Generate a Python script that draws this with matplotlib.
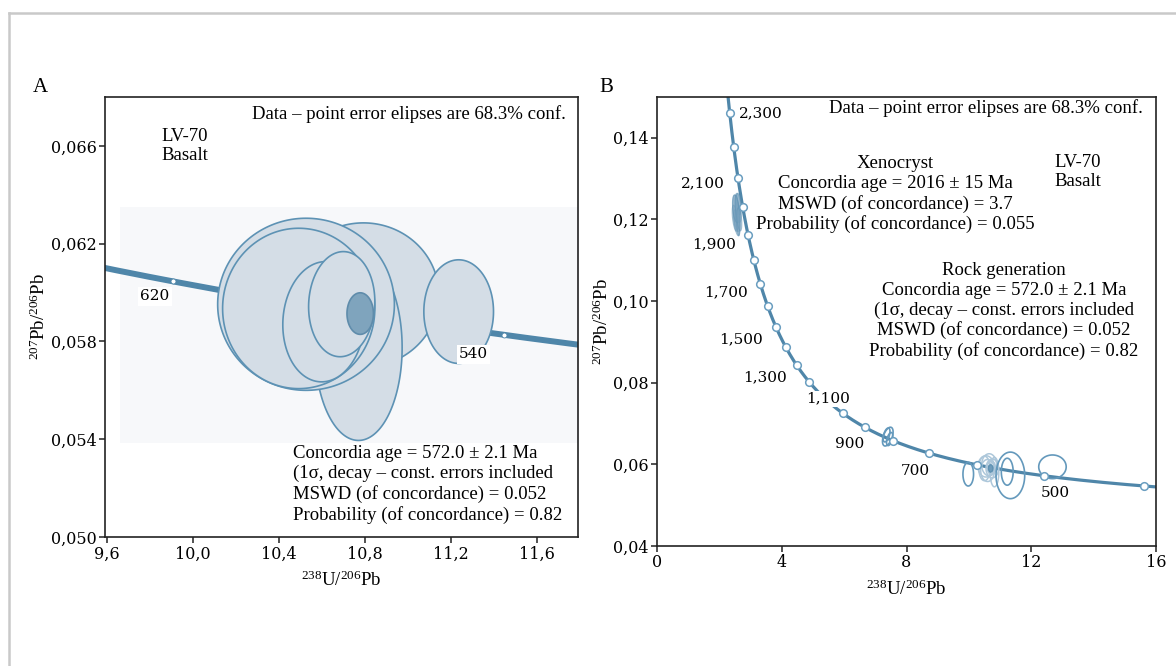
import numpy as np
import matplotlib
matplotlib.use("Agg")
import matplotlib.pyplot as plt
from matplotlib.patches import Polygon, Rectangle
from matplotlib.lines import Line2D
from matplotlib.ticker import FuncFormatter

plt.rcParams['font.family'] = ['Liberation Serif', 'DejaVu Serif']
plt.rcParams['mathtext.default'] = 'regular'

# ---------------- data ----------------
# U-Pb decay constants used for the Tera-Wasserburg concordia
LAMBDA_238 = 1.55125e-10
LAMBDA_235 = 9.8485e-10
U_RATIO = 137.88

# Panel A
a_curve_age_range = (500, 680)          # Ma
a_marker_ages = [540, 560, 580, 600, 620]
a_label_ages = ["620", "540"]
a_label_x = [9.822, 11.304]
a_label_y = [0.05984, 0.05747]
# error ellipses: centre x, centre y, half-width, half-height, correlation
a_ell_x = [10.792, 10.769, 10.525, 10.491, 10.607, 10.691, 11.235]
a_ell_y = [0.0599, 0.05775, 0.05952, 0.05935, 0.058807, 0.059525, 0.05922]
a_ell_sx = [0.351, 0.203, 0.411, 0.354, 0.190, 0.154, 0.162]
a_ell_sy = [0.00295, 0.0038, 0.00352, 0.00328, 0.00246, 0.00215, 0.00212]
a_ell_rho = [0.0, 0.0, 0.0, 0.0, 0.05, 0.05, 0.0]
a_age_ell = (10.777, 0.05914, 0.0615, 0.00085, 0.0)   # concordia age ellipse

# Panel B
b_curve_age_range = (350, 2500)
b_marker_ages = list(range(400, 2400, 100))
b_label_text = ["2,300", "2,100", "1,900", "1,700", "1,500", "1,300",
                "1,100", "900", "700", "500"]
b_label_x = [3.33, 1.48, 1.84, 2.20, 2.69, 3.47, 5.50, 6.17, 8.28, 12.78]
b_label_y = [0.1460, 0.1288, 0.1140, 0.1022, 0.0906, 0.0813, 0.0761,
             0.0649, 0.0583, 0.0530]
# xenocryst ellipses (filled)
b_xen_x = [2.55, 2.60, 2.50, 2.62, 2.56, 2.53, 2.58, 2.64]
b_xen_y = [0.1215, 0.1228, 0.1203, 0.1238, 0.1192, 0.1226, 0.1210, 0.1200]
b_xen_sx = [0.12, 0.10, 0.09, 0.08, 0.10, 0.11, 0.07, 0.08]
b_xen_sy = [0.0045, 0.0036, 0.0032, 0.0026, 0.0032, 0.0034, 0.0050, 0.0028]
b_xen_rho = [-0.5, -0.4, -0.5, -0.4, -0.5, -0.4, -0.6, -0.4]
# outlined ellipses (strong)
b_ell_x = [7.40, 7.46, 7.36, 9.98, 11.33, 11.23, 12.68]
b_ell_y = [0.0668, 0.0662, 0.0672, 0.0576, 0.0573, 0.0582, 0.0594]
b_ell_sx = [0.17, 0.10, 0.11, 0.17, 0.46, 0.19, 0.44]
b_ell_sy = [0.0023, 0.0016, 0.0017, 0.0029, 0.0057, 0.0033, 0.0029]
b_ell_rho = [0.5, 0.5, 0.5, 0.0, 0.0, 0.0, 0.0]
# faint ellipses of the rock-generation cluster
b_faint_x = [10.55, 10.65, 10.75, 10.60, 10.72, 10.82, 10.50]
b_faint_y = [0.0595, 0.0599, 0.0590, 0.0585, 0.0592, 0.0581, 0.0590]
b_faint_sx = [0.26, 0.24, 0.20, 0.22, 0.13, 0.14, 0.18]
b_faint_sy = [0.0026, 0.0027, 0.0023, 0.0027, 0.0016, 0.0036, 0.0030]
b_age_ell = (10.70, 0.0590, 0.07, 0.0009, 0.0)

# ---------------- helpers ----------------
def concordia(age_ma):
    t = np.asarray(age_ma, dtype=float) * 1e6
    e238 = np.exp(LAMBDA_238 * t) - 1.0
    e235 = np.exp(LAMBDA_235 * t) - 1.0
    return 1.0 / e238, (e235 / U_RATIO) / e238


def ellipse_poly(cx, cy, sx, sy, rho, **kw):
    th = np.linspace(0, 2 * np.pi, 240)
    x = cx + sx * np.cos(th)
    y = cy + sy * (rho * np.cos(th) + np.sqrt(1 - rho ** 2) * np.sin(th))
    return Polygon(np.column_stack([x, y]), closed=True, **kw)


tick_font = dict(family='DejaVu Serif', size=11.5)
lab_font = dict(family='DejaVu Serif', size=11)
TXT = 13.5
CURVE = '#4f86a9'
EDGE = '#5d92b4'
FILL = '#d4dde6'

fig = plt.figure(figsize=(11.76, 6.66), dpi=100)

# outer grey frame
fig.add_artist(Line2D([9 / 1176, 1.0], [1 - 13 / 666] * 2, transform=fig.transFigure,
                      color='#c9c9c9', lw=1.8))
fig.add_artist(Line2D([9 / 1176] * 2, [0.0, 1 - 13 / 666], transform=fig.transFigure,
                      color='#c9c9c9', lw=1.8))

# ================= Panel A =================
axA = fig.add_axes([105 / 1176, 1 - 537 / 666, 473 / 1176, 440 / 666])
axA.set_xlim(9.59, 11.79)
axA.set_ylim(0.050, 0.068)
axA.set_xticks([9.6, 10.0, 10.4, 10.8, 11.2, 11.6])
axA.set_yticks([0.050, 0.054, 0.058, 0.062, 0.066])
axA.xaxis.set_major_formatter(FuncFormatter(lambda v, p: f"{v:.1f}".replace('.', ',')))
axA.yaxis.set_major_formatter(FuncFormatter(lambda v, p: f"{v:.3f}".replace('.', ',')))

axA.add_patch(Rectangle((9.662, 0.05384), 11.79 - 9.662, 0.06349 - 0.05384,
                        facecolor='#f7f8fa', edgecolor='none', zorder=0.5))

ages = np.linspace(*a_curve_age_range, 400)
cx_, cy_ = concordia(ages)
axA.plot(cx_, cy_, color=CURVE, lw=4.3, solid_capstyle='butt', zorder=1)
mx, my = concordia(a_marker_ages)
axA.plot(mx, my, 'o', ms=3.6, mfc='white', mec=CURVE, mew=0.6, zorder=1.5)

for x, y, sx, sy, r in zip(a_ell_x, a_ell_y, a_ell_sx, a_ell_sy, a_ell_rho):
    axA.add_patch(ellipse_poly(x, y, sx, sy, r, facecolor=FILL, edgecolor=EDGE,
                               lw=1.2, zorder=2))
axA.add_patch(ellipse_poly(*a_age_ell, facecolor='#7fa4bd', edgecolor='#5f8cab',
                           lw=1.2, zorder=3))

for t, x, y in zip(a_label_ages, a_label_x, a_label_y):
    axA.text(x, y, t, ha='center', va='center', fontdict=lab_font, zorder=4,
             bbox=dict(facecolor='white', edgecolor='none', pad=1.5))

axA.text(0.975, 0.961, "Data – point error elipses are 68.3% conf.", transform=axA.transAxes,
         ha='right', va='center', fontsize=TXT)
axA.text(0.169, 0.889, "LV-70\nBasalt", transform=axA.transAxes, ha='center',
         va='center', fontsize=TXT, linespacing=1.2, multialignment='center')
axA.text(0.397, 0.119, "Concordia age = 572.0 ± 2.1 Ma\n(1σ, decay – const. errors included\n"
         "MSWD (of concordance) = 0.052\nProbability (of concordance) = 0.82",
         transform=axA.transAxes, ha='left', va='center', fontsize=TXT, linespacing=1.2,
         zorder=5)
axA.set_xlabel(r"$^{238}$U/$^{206}$Pb", fontsize=13.5, labelpad=6)
axA.set_ylabel(r"$^{207}$Pb/$^{206}$Pb", fontsize=13.5, labelpad=1)

# ================= Panel B =================
axB = fig.add_axes([657 / 1176, 1 - 546 / 666, 499 / 1176, 449 / 666])
axB.set_xlim(0, 16)
axB.set_ylim(0.04, 0.150)
axB.set_xticks([0, 4, 8, 12, 16])
axB.set_yticks([0.04, 0.06, 0.08, 0.10, 0.12, 0.14])
axB.xaxis.set_major_formatter(FuncFormatter(lambda v, p: f"{v:.0f}"))
axB.yaxis.set_major_formatter(FuncFormatter(lambda v, p: f"{v:.2f}".replace('.', ',')))

ages = np.linspace(*b_curve_age_range, 800)
cx_, cy_ = concordia(ages)
axB.plot(cx_, cy_, color=CURVE, lw=2.3, zorder=2)
mx, my = concordia(b_marker_ages)
axB.plot(mx, my, 'o', ms=5.5, mfc='white', mec='#6a9ec0', mew=1.1, zorder=3)

for x, y, sx, sy, r in zip(b_xen_x, b_xen_y, b_xen_sx, b_xen_sy, b_xen_rho):
    axB.add_patch(ellipse_poly(x, y, sx, sy, r, facecolor='#7aa3c0', edgecolor='#5f92b3',
                               alpha=0.5, lw=0.8, zorder=2.5))
for x, y, sx, sy in zip(b_faint_x, b_faint_y, b_faint_sx, b_faint_sy):
    axB.add_patch(ellipse_poly(x, y, sx, sy, 0.0, facecolor='none', edgecolor='#adc7da',
                               lw=1.1, zorder=2.2))
for x, y, sx, sy, r in zip(b_ell_x, b_ell_y, b_ell_sx, b_ell_sy, b_ell_rho):
    axB.add_patch(ellipse_poly(x, y, sx, sy, r, facecolor='none', edgecolor='#6499bc',
                               lw=1.2, zorder=2.4))
axB.add_patch(ellipse_poly(*b_age_ell, facecolor='#6f9cbb', edgecolor='#5f92b3',
                           lw=1.0, zorder=2.6))

for t, x, y in zip(b_label_text, b_label_x, b_label_y):
    axB.text(x, y, t, ha='center', va='center', fontdict=lab_font, zorder=4,
             bbox=dict(facecolor='white', edgecolor='none', pad=0.8))

axB.text(0.974, 0.9755, "Data – point error elipses are 68.3% conf.", transform=axB.transAxes,
         ha='right', va='center', fontsize=TXT)
axB.text(0.477, 0.783, "Xenocryst\nConcordia age = 2016 ± 15 Ma\nMSWD (of concordance) = 3.7\n"
         "Probability (of concordance) = 0.055", transform=axB.transAxes, ha='center',
         va='center', fontsize=TXT, linespacing=1.2, multialignment='center')
axB.text(0.844, 0.833, "LV-70\nBasalt", transform=axB.transAxes, ha='center',
         va='center', fontsize=TXT, linespacing=1.2, multialignment='center')
axB.text(0.695, 0.523, "Rock generation\nConcordia age = 572.0 ± 2.1 Ma\n"
         "(1σ, decay – const. errors included\nMSWD (of concordance) = 0.052\n"
         "Probability (of concordance) = 0.82", transform=axB.transAxes, ha='center',
         va='center', fontsize=TXT, linespacing=1.2, multialignment='center')
axB.set_xlabel(r"$^{238}$U/$^{206}$Pb", fontsize=13.5, labelpad=6)
axB.set_ylabel(r"$^{207}$Pb/$^{206}$Pb", fontsize=13.5, labelpad=1)

for ax in (axA, axB):
    for s in ax.spines.values():
        s.set_linewidth(1.2)
        s.set_color('#222222')
    ax.tick_params(direction='out', length=4, width=1.1, pad=2, color='#222222')
    for lab in ax.get_xticklabels() + ax.get_yticklabels():
        lab.set_fontfamily(tick_font['family'])
        lab.set_fontsize(tick_font['size'])

fig.text(40 / 1176, 1 - 88 / 666, "A", fontsize=15, ha='center', va='center')
fig.text(606 / 1176, 1 - 88 / 666, "B", fontsize=15, ha='center', va='center')

fig.savefig("out.png", dpi=100, facecolor='white')
